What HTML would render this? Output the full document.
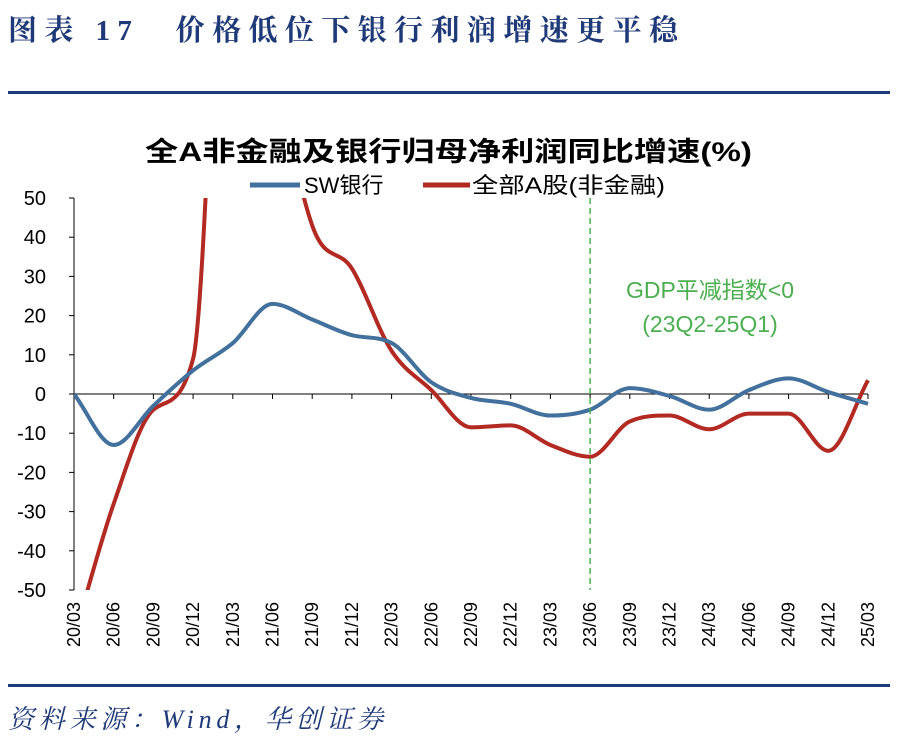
<!DOCTYPE html>
<html><head><meta charset="utf-8">
<style>
body{margin:0;background:#fff;width:897px;height:741px;overflow:hidden;font-family:"Liberation Sans","Noto Sans CJK SC",sans-serif;}
</style></head>
<body>
<svg width="897" height="741" xmlns="http://www.w3.org/2000/svg">
<text x="8" y="40" font-size="29" font-weight="bold" fill="#1f3a78" textLength="670" lengthAdjust="spacing" font-family="'Liberation Serif','Noto Serif CJK SC',serif">图表 17　价格低位下银行利润增速更平稳</text>
<rect x="8" y="91" width="882" height="3" fill="#1f3a78"/>
<text x="145" y="161" font-size="27" font-weight="bold" fill="#000" textLength="607" lengthAdjust="spacingAndGlyphs">全A非金融及银行归母净利润同比增速(%)</text>
<g>
<line x1="250" y1="185" x2="300" y2="185" stroke="#41719c" stroke-width="5"/>
<text x="304" y="193" font-size="22">SW银行</text>
<line x1="423" y1="185" x2="470" y2="185" stroke="#b22a22" stroke-width="5"/>
<text x="472" y="193" font-size="22" textLength="193" lengthAdjust="spacingAndGlyphs">全部A股(非金融)</text>
</g>
<defs><clipPath id="plot"><rect x="74" y="198" width="810" height="392"/></clipPath></defs>
<g id="axes"></g>
<g id="series" clip-path="url(#plot)"></g>
<g id="anno"></g>
<rect x="8" y="684" width="882" height="3" fill="#1f3a78"/>
<text x="8" y="728" font-size="26" font-style="italic" fill="#1f3a78" textLength="375" font-family="'Liberation Serif','Noto Serif CJK SC',serif">资料来源：Wind，华创证券</text>
</svg>
<script>
const categories=["20/03","20/06","20/09","20/12","21/03","21/06","21/09","21/12","22/03","22/06","22/09","22/12","23/03","23/06","23/09","23/12","24/03","24/06","24/09","24/12","25/03"];
const swBank=[0,-13,-3,6,13,23,19,15,13,3,-1,-2.5,-5.5,-4,1.5,-0.5,-4,1,4,0.5,-2.5];
const allA=[-62,-28,-4,9,160,90,43,32,11,1,-8.5,-8,-13,-16,-7,-5.5,-9,-5,-5,-14.5,3.5];
const yTicks=[50,40,30,20,10,0,-10,-20,-30,-40,-50];
const x0=74,x1=868,yTop=198,yBot=590;
const xs=i=>x0+i*(x1-x0)/(categories.length-1);
const ys=v=>yTop+(50-v)*(yBot-yTop)/100;
const NS="http://www.w3.org/2000/svg";
function mk(t,a,p){const e=document.createElementNS(NS,t);for(const k in a)e.setAttribute(k,a[k]);p.appendChild(e);return e;}
const ax=document.getElementById('axes');
let l=mk('line',{x1:x0,y1:yTop,x2:x0,y2:yBot,stroke:'#000','stroke-width':1},ax);


yTicks.forEach(v=>{
 let t=mk('line',{x1:x0-5,y1:ys(v),x2:x0,y2:ys(v),stroke:'#000'},ax);
 
 
 let tx=mk('text',{x:x0-28,y:ys(v)+7,'font-size':20,'text-anchor':'end'},ax);tx.textContent=v;
 
 
});
l=mk('line',{x1:x0,y1:ys(0),x2:x1,y2:ys(0),stroke:'#000','stroke-width':1},ax);


categories.forEach((c,i)=>{
 let t=mk('line',{x1:xs(i),y1:ys(0),x2:xs(i),y2:ys(0)+5,stroke:'#000'},ax);
 
 
 let tx=mk('text',{x:0,y:0,'font-size':18,'text-anchor':'end',transform:`translate(${xs(i)+6},${yBot+12}) rotate(-90)`},ax);tx.textContent=c;
 
 
});
function smooth(vals){
 const p=vals.map((v,i)=>[xs(i),ys(v)]);const n=p.length;
 const d=[];for(let i=0;i<n-1;i++)d.push((p[i+1][1]-p[i][1])/(p[i+1][0]-p[i][0]));
 const m=[d[0]];for(let i=1;i<n-1;i++){m.push(d[i-1]*d[i]<=0?0:(d[i-1]+d[i])/2);}m.push(d[n-2]);
 for(let i=0;i<n-1;i++){if(d[i]===0){m[i]=m[i+1]=0;continue;}const a=m[i]/d[i],b=m[i+1]/d[i],s=a*a+b*b;if(s>9){const t=3/Math.sqrt(s);m[i]=t*a*d[i];m[i+1]=t*b*d[i];}}
 let s=`M${p[0][0]},${p[0][1]}`;
 for(let i=0;i<n-1;i++){const h=(p[i+1][0]-p[i][0])/3;
  s+=` C${p[i][0]+h},${p[i][1]+m[i]*h} ${p[i+1][0]-h},${p[i+1][1]-m[i+1]*h} ${p[i+1][0]},${p[i+1][1]}`;}
 return s;}
const sg=document.getElementById('series');
let p=mk('path',{d:smooth(allA),fill:'none',stroke:'#b22a22','stroke-width':4},sg);


p=mk('path',{d:smooth(swBank),fill:'none',stroke:'#41719c','stroke-width':4},sg);


const an=document.getElementById('anno');
const xi=xs(13);
let dl=mk('line',{x1:xi,y1:yTop,x2:xi,y2:yBot,stroke:'#4caf50','stroke-width':1.5,'stroke-dasharray':'6,4'},an);


let a1=mk('text',{x:710,y:298,'font-size':23,fill:'#4caf50','text-anchor':'middle'},an);a1.textContent='GDP平减指数<0';


let a2=mk('text',{x:710,y:332,'font-size':23,fill:'#4caf50','text-anchor':'middle'},an);a2.textContent='(23Q2-25Q1)';


</script>
</body></html>
